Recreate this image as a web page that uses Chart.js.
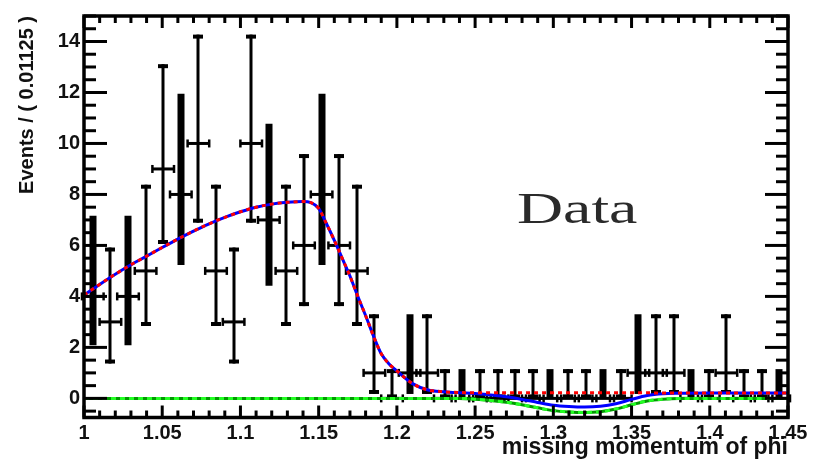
<!DOCTYPE html>
<html>
<head>
<meta charset="utf-8">
<script src="https://cdn.jsdelivr.net/npm/chart.js@4/dist/chart.umd.min.js"></script>
<style>
  html, body { margin:0; padding:0; background:#fff; }
  #wrap { width:824px; height:461px; position:relative; }
</style>
</head>
<body>
<div id="wrap"><canvas id="c"></canvas></div>
<script>
// ---- data ----
const binCenters = [1.005625,1.016875,1.028125,1.039375,1.050625,1.061875,1.073125,1.084375,1.095625,1.106875,
                    1.118125,1.129375,1.140625,1.151875,1.163125,1.174375,1.185625,1.196875,1.208125,1.219375,
                    1.230625,1.241875,1.253125,1.264375,1.275625,1.286875,1.298125,1.309375,1.320625,1.331875,
                    1.343125,1.354375,1.365625,1.376875,1.388125,1.399375,1.410625,1.421875,1.433125,1.444375];
const counts = [4,3,4,5,9,8,10,5,3,10, 7,5,6,8,6,5,1,0,1,1, 0,0,0,0,0,0,0,0,0,0, 0,1,1,1,0,0,1,0,0,0];
const errLow = [2.086,1.367,2.086,2.840,6.057,5.232,6.891,2.840,1.367,6.891,
                4.419,2.840,3.620,5.232,3.620,2.840,0.173,0,0.173,0.173,
                0,0,0,0,0,0,0,0,0,0,
                0,0.173,0.173,0.173,0,0,0.173,0,0,0];
const errHigh = [7.163,5.918,7.163,8.382,13.11,11.95,14.27,8.382,5.918,14.27,
                 10.77,8.382,9.584,11.95,9.584,8.382,3.300,1.148,3.300,3.300,
                 1.148,1.148,1.148,1.148,1.148,1.148,1.148,1.148,1.148,1.148,
                 1.148,3.300,3.300,3.300,1.148,1.148,3.300,1.148,1.148,1.148];

const curveX = [1.000,1.010,1.020,1.030,1.040,1.050,1.060,1.070,1.080,1.090,1.100,1.110,1.120,1.130,1.140,1.145,
                1.150,1.155,1.160,1.165,1.170,1.175,1.180,1.185,1.190,1.195,1.200,1.210,1.220,1.230,1.240,
                1.250,1.260,1.270,1.280,1.290,1.300,1.310,1.320,1.330,1.340,1.350,1.360,1.370,1.380,1.400,1.420,1.450];
const totalY = [4.05,4.47,4.87,5.24,5.58,5.92,6.25,6.56,6.85,7.10,7.32,7.50,7.62,7.69,7.72,7.68,
                7.45,6.85,6.20,5.50,4.80,4.00,3.25,2.45,1.75,1.35,1.08,0.58,0.33,0.26,0.22,
                0.19,0.13,0.06,-0.04,-0.16,-0.27,-0.32,-0.34,-0.31,-0.21,-0.04,0.11,0.18,0.20,0.21,0.21,0.21];
const redY   = [4.05,4.47,4.87,5.24,5.58,5.92,6.25,6.56,6.85,7.10,7.32,7.50,7.62,7.69,7.72,7.68,
                7.45,6.85,6.20,5.50,4.80,4.00,3.25,2.45,1.75,1.35,1.08,0.58,0.33,0.26,0.23,
                0.22,0.22,0.22,0.22,0.22,0.22,0.22,0.22,0.22,0.22,0.22,0.22,0.21,0.21,0.21,0.21,0.21];
const greenY = [0,0,0,0,0,0,0,0,0,0,0,0,0,0,0,0,
                0,0,0,0,0,0,0,0,0,0,0,0,0,0,0,
                -0.03,-0.08,-0.15,-0.25,-0.37,-0.48,-0.53,-0.55,-0.52,-0.42,-0.25,-0.10,-0.03,0,0,0,0];

const xTickValues = [1,1.05,1.1,1.15,1.2,1.25,1.3,1.35,1.4,1.45];
const xTickLabels = ['1','1.05','1.1','1.15','1.2','1.25','1.3','1.35','1.4','1.45'];
const yTickValues = [0,2,4,6,8,10,12,14];
const yTickLabels = ['0','2','4','6','8','10','12','14'];

// ---- drawing ----
const HALF = 0.005625;
const THICK = new Set([0,2,5,10,13,18,21,26,29,31,34,39]);
const pts = arr => curveX.map((x,i)=>({x:x, y:arr[i]}));

function seg(ctx,x1,y1,x2,y2){ ctx.beginPath(); ctx.moveTo(x1,y1); ctx.lineTo(x2,y2); ctx.stroke(); }

const errPlugin = {
  id:'errbars',
  beforeDatasetsDraw(chart){
    const {ctx, scales:{x,y}} = chart;
    ctx.save();
    ctx.strokeStyle = '#000';
    ctx.lineCap = 'butt';
    for (let i=0;i<binCenters.length;i++){
      const cx = Math.round(x.getPixelForValue(binCenters[i]));
      const xl = x.getPixelForValue(binCenters[i]-HALF);
      const xr = x.getPixelForValue(binCenters[i]+HALF);
      const yv = y.getPixelForValue(counts[i]);
      const yl = y.getPixelForValue(errLow[i]);
      const yh = y.getPixelForValue(errHigh[i]);
      const thick = THICK.has(i);
      ctx.lineWidth = thick ? 7 : 3;
      seg(ctx, cx, yl, cx, yh);
      if (!thick){
        ctx.lineWidth = 4;
        seg(ctx, cx-5, yh+2, cx+5, yh+2);
        seg(ctx, cx-5, yl-2, cx+5, yl-2);
      }
      ctx.lineWidth = 3;
      seg(ctx, xl-2, yv, xr+2, yv);
      ctx.lineWidth = 2.5;
      seg(ctx, xl-2, yv-4, xl-2, yv+4);
      seg(ctx, xr+2, yv-4, xr+2, yv+4);
    }
    ctx.restore();
  }
};

const framePlugin = {
  id:'frame',
  afterDraw(chart){
    const {ctx, chartArea:a, scales:{x,y}} = chart;
    ctx.save();
    ctx.strokeStyle = '#000';
    ctx.lineWidth = 3;
    for (let k=0;k<=45;k++){
      const px = x.getPixelForValue(1 + k*0.01);
      const len = (k%5===0) ? 12 : 7;
      seg(ctx, px, a.bottom, px, a.bottom-len);
      seg(ctx, px, a.top, px, a.top+len);
    }
    for (let k=-1;k<=30;k++){
      const py = y.getPixelForValue(k*0.5);
      const len = (k%4===0) ? 23 : 12;
      seg(ctx, a.left, py, a.left+len, py);
      seg(ctx, a.right-len, py, a.right, py);
    }
    ctx.lineWidth = 3.5;
    ctx.strokeRect(a.left, a.top, a.right-a.left, a.bottom-a.top);
    // label
    ctx.fillStyle = '#2a2a2a';
    ctx.font = '44px "Liberation Serif"';
    ctx.textBaseline = 'alphabetic';
    ctx.translate(517, 223);
    ctx.scale(1.45, 1);
    ctx.fillText('Data', 0, 0);
    ctx.restore();
  }
};

const tickFont = {family:'"Liberation Sans", Arial, sans-serif', size:20, weight:'bold'};

new Chart(document.getElementById('c'), {
  type:'line',
  data:{
    datasets:[
      {type:'scatter', label:'Data', data: binCenters.map((x,i)=>({x:x, y:counts[i]})), pointRadius:0, showLine:false},
      {label:'red', data: pts(redY), borderColor:'#ff0000', borderWidth:3, borderDash:[4,4], pointRadius:0, fill:false, cubicInterpolationMode:'monotone'},
      {label:'total', data: pts(totalY), borderColor:'#0000ff', borderWidth:3, pointRadius:0, fill:false, cubicInterpolationMode:'monotone'},
      {label:'greenB', data: pts(greenY), borderColor:'#22ff22', borderWidth:3, borderDash:[5,4], pointRadius:0, fill:false, cubicInterpolationMode:'monotone'},
      {label:'greenD', data: pts(greenY), borderColor:'#009a00', borderWidth:3, pointRadius:0, fill:false, cubicInterpolationMode:'monotone'}
    ]
  },
  options:{
    responsive:true,
    maintainAspectRatio:false,
    animation:false,
    events:[],
    layout:{padding:{top:11, right:36, left:0, bottom:0}},
    plugins:{legend:{display:false}, tooltip:{enabled:false}},
    scales:{
      x:{
        type:'linear', min:1, max:1.45,
        afterBuildTicks: s => { s.ticks = xTickValues.map(v=>({value:v})); },
        afterFit: s => { s.height = 43.5; },
        ticks:{ callback:(v,i)=>xTickLabels[i], font:tickFont, color:'#111', padding:4, maxRotation:0, autoSkip:false },
        grid:{display:false, drawTicks:false},
        border:{display:false},
        title:{display:true, text:'missing momentum of phi', align:'end', color:'#111',
               font:{family:'"Liberation Sans", Arial, sans-serif', size:23, weight:'bold'}, padding:{top:0,bottom:0}}
      },
      y:{
        type:'linear', min:-0.75, max:15,
        afterBuildTicks: s => { s.ticks = yTickValues.map(v=>({value:v})); },
        afterFit: s => { s.width = 84; },
        ticks:{ callback:(v,i)=>yTickLabels[i], font:tickFont, color:'#111', padding:4, autoSkip:false },
        grid:{display:false, drawTicks:false},
        border:{display:false},
        title:{display:true, text:'Events / ( 0.01125 )', align:'end', color:'#111',
               font:{family:'"Liberation Sans", Arial, sans-serif', size:20, weight:'bold'}, padding:{top:15,bottom:0}}
      }
    }
  },
  plugins:[errPlugin, framePlugin]
});
</script>
</body>
</html>
